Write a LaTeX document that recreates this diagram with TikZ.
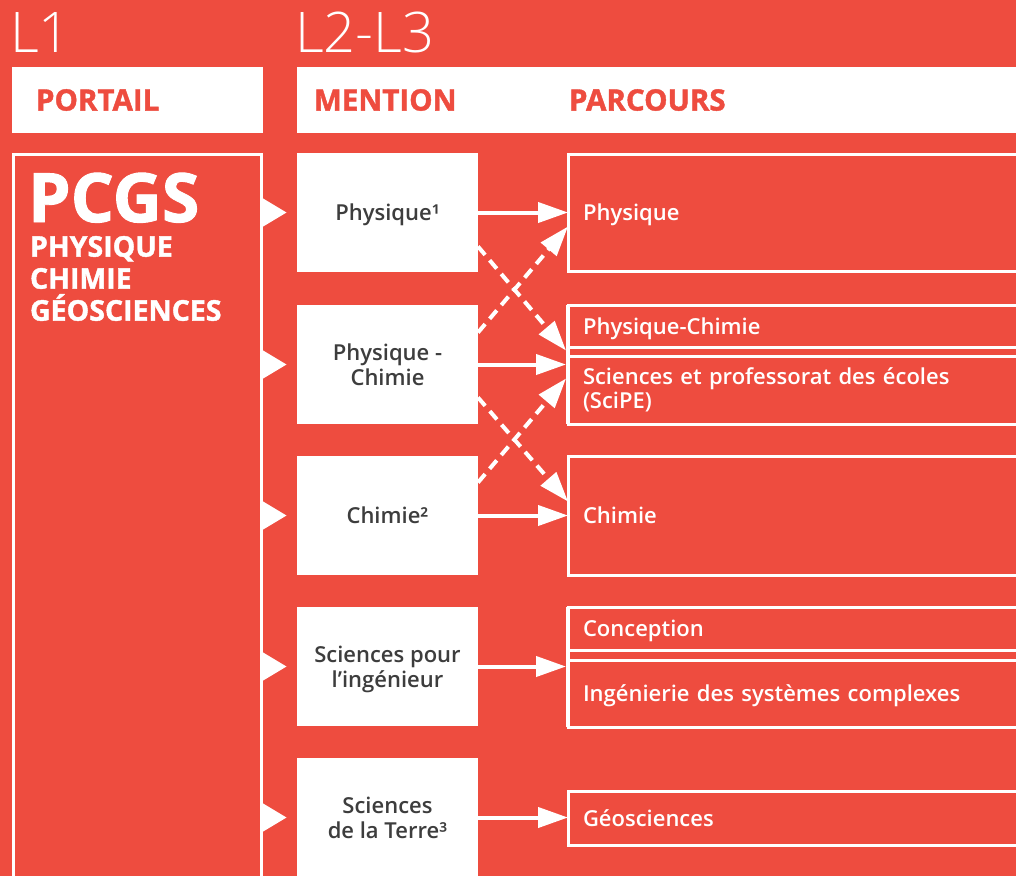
\documentclass[tikz,border=0pt]{standalone}
\usepackage{fontspec}
\setmainfont{Open Sans}
\newfontfamily\semib{Open Sans Semibold}
\newfontfamily\xbold{Open Sans}[FakeBold=1.4]
\newfontfamily\lightf{Open Sans Light}
\usetikzlibrary{arrows.meta}
\definecolor{fondrouge}{HTML}{EE4C3F}
\definecolor{gristexte}{HTML}{3D3D3D}

\begin{document}
\begin{tikzpicture}[x=1pt,y=-1pt,
  every node/.style={inner sep=0pt,outer sep=0pt},
  entete/.style={fill=white,anchor=north west,minimum height=66pt},
  titre/.style={anchor=west,text=fondrouge,font=\xbold\bfseries\fontsize{29.5}{33}\selectfont},
  mention/.style={fill=white,anchor=north west,minimum width=181pt,minimum height=119pt,align=center,text depth=0pt,text=gristexte,font=\semib\fontsize{22}{25}\selectfont},
  parcours/.style={draw=white,line width=3pt,anchor=north west,text width=440pt,inner xsep=15pt,align=left,text=white,font=\semib\fontsize{22}{24.5}\selectfont},
  uneligne/.style={parcours,text depth=0pt},
  groupe/.style={fill=white,anchor=north west,minimum width=4pt},
  fleche/.style={draw=white,line width=4pt,-{Triangle[length=30pt,width=20pt]}},
  pointille/.style={fleche,dash pattern=on 11pt off 7pt}]
\useasboundingbox (0,0) rectangle (1016,876);
\clip (0,0) rectangle (1016,876);
\fill[fondrouge] (0,0) rectangle (1016,876);

\node[anchor=base west,text=white,font=\lightf\fontsize{56}{60}\selectfont] (l1) at (10,52) {L1};
\node[anchor=base west,text=white,font=\lightf\fontsize{56}{60}\selectfont] (l23) at (295,52) {L2-L3};

\node[entete,minimum width=251pt] (hportail) at (12,67) {};
\node[entete,minimum width=740pt] (hmention) at (297,67) {};
\node[titre] (tportail) at ([xshift=24pt]hportail.west) {PORTAIL};
\node[titre] (tmention) at ([xshift=17pt]hmention.west) {MENTION};
\node[titre] (tparcours) at ([xshift=272pt]hmention.west) {PARCOURS};

\node[draw=white,line width=3pt,anchor=north west,minimum width=248pt,minimum height=760pt] (pcgs) at (13.5,154.5) {};
\node[anchor=base west,text=white,font=\xbold\bfseries\fontsize{68}{72}\selectfont] (sigle) at (28,222) {PCGS};
\node[anchor=north west,align=left,text=white,font=\xbold\bfseries\fontsize{28.5}{32}\selectfont] (nom) at (30,236) {PHYSIQUE\\CHIMIE\\GÉOSCIENCES};

\node[mention] (m1) at (297,153) {Physique¹};
\node[mention] (m2) at (297,305) {Physique -\\Chimie};
\node[mention] (m3) at (297,456) {Chimie²};
\node[mention] (m4) at (297,607) {Sciences pour\\l’ingénieur};
\node[mention] (m5) at (297,758) {Sciences\\de la Terre³};

\fill[white] (pcgs.east |- m1.west) ++(0,-15) -- ++(25,15) -- ++(-25,15) -- cycle;
\fill[white] (pcgs.east |- m2.west) ++(0,-15) -- ++(25,15) -- ++(-25,15) -- cycle;
\fill[white] (pcgs.east |- m3.west) ++(0,-15) -- ++(25,15) -- ++(-25,15) -- cycle;
\fill[white] (pcgs.east |- m4.west) ++(0,-15) -- ++(25,15) -- ++(-25,15) -- cycle;
\fill[white] (pcgs.east |- m5.west) ++(0,-15) -- ++(25,15) -- ++(-25,15) -- cycle;

\node[uneligne,minimum height=117pt] (p1) at (568,154) {Physique};
\node[groupe,minimum height=119pt] (g2) at (566,305) {};
\node[uneligne,minimum height=42pt] (p2a) at (568,305) {Physique-Chimie};
\node[parcours,minimum height=68pt] (p2b) at (568,356) {Sciences et professorat des écoles\\(SciPE)};
\node[uneligne,minimum height=119pt] (p3) at (568,456) {Chimie};
\node[groupe,minimum height=120pt] (g4) at (566,607) {};
\node[uneligne,minimum height=43pt] (p4a) at (568,607) {Conception};
\node[uneligne,minimum height=67pt] (p4b) at (568,660) {Ingénierie des systèmes complexes};
\node[uneligne,minimum height=54pt] (p5) at (568,791) {Géosciences};

\draw[fleche] (m1.east) -- (m1.east -| p1.west);
\draw[fleche] (m2.east) -- (m2.east -| g2.west);
\draw[fleche] (m3.east) -- (m3.east -| p3.west);
\draw[fleche] (m4.east) -- (m4.east -| g4.west);
\draw[fleche] (m5.east) -- (m5.east -| p5.west);

\draw[pointille] ([yshift=-34pt]m1.east) -- ([yshift=14pt]g2.west);
\draw[pointille] ([yshift=32pt]m2.east) -- ([yshift=-14pt]p1.west);
\draw[pointille] ([yshift=-33pt]m2.east) -- ([yshift=14pt]p3.west);
\draw[pointille] ([yshift=33pt]m3.east) -- ([yshift=-14pt]g2.west);
\end{tikzpicture}
\end{document}
